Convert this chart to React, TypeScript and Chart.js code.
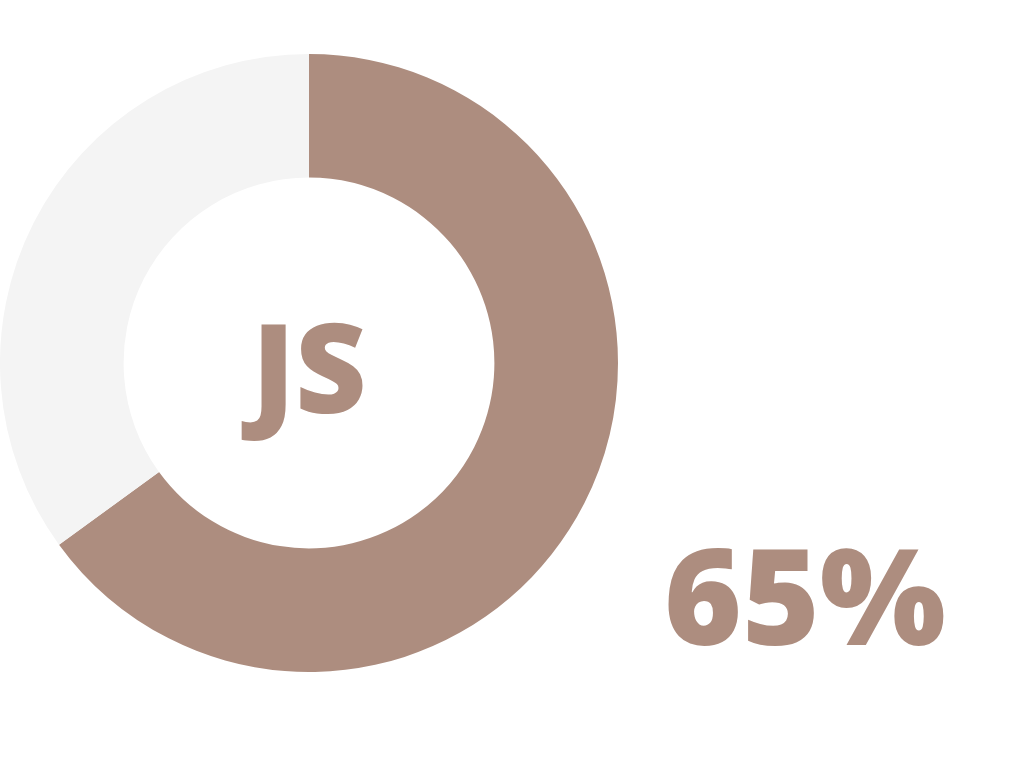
import React, { useEffect, useRef } from "react";
import { Chart, registerables } from "chart.js";

Chart.register(...registerables);

const labels = ["JS", "Rest"];
const values = [65, 35];
const colors = ["#AD8D7F", "#F4F4F4"];
const centerLabel = "JS";
const percentLabel = "65%";

export default function App() {
  const ref = useRef<HTMLCanvasElement>(null);
  useEffect(() => {
    if (!ref.current) return;
    const chart = new Chart(ref.current, {
      type: "doughnut",
      data: {
        labels,
        datasets: [
          {
            data: values,
            backgroundColor: colors,
            borderWidth: 0,
          },
        ],
      },
      options: {
        animation: false,
        responsive: false,
        cutout: "60%",
        layout: { padding: 0 },
        plugins: { legend: { display: false }, tooltip: { enabled: false } },
      },
    });
    return () => chart.destroy();
  }, []);
  return (
    <div style={{ position: "fixed", left: 0, top: 0, width: 1024, height: 768, background: "#fff", fontFamily: "'Open Sans', sans-serif" }}>
      <canvas ref={ref} width={618} height={618} style={{ position: "absolute", left: 0, top: 54, width: 618, height: 618 }} />
      <div style={{ position: "absolute", left: 0, top: 365, width: 618, transform: "translateY(-50%)", textAlign: "center", color: "#AD8D7F", fontWeight: 800, fontSize: 124, lineHeight: 1 }}>
        {centerLabel}
      </div>
      <div style={{ position: "absolute", left: 664, top: 527, color: "#AD8D7F", fontWeight: 800, fontSize: 133, lineHeight: 1 }}>
        {percentLabel}
      </div>
    </div>
  );
}
